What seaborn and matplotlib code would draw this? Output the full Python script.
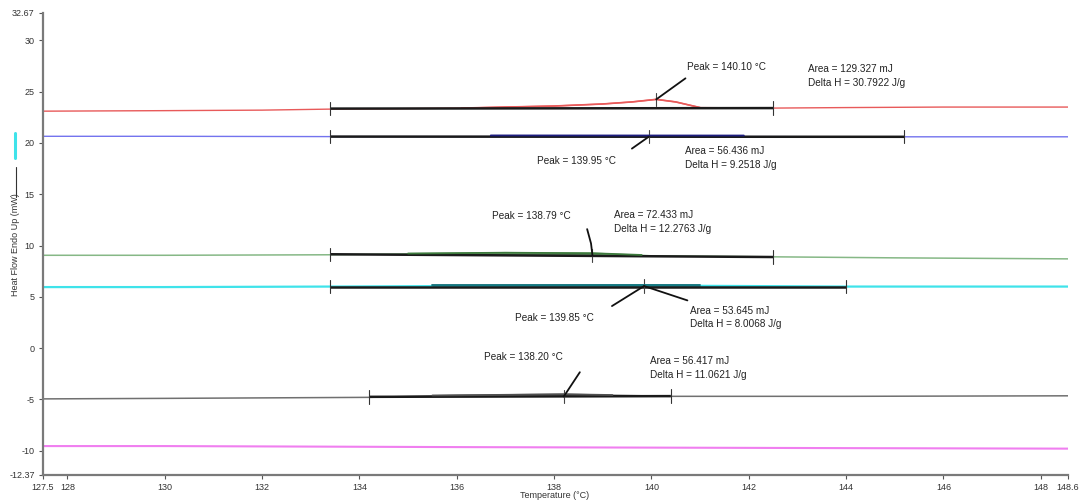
import matplotlib
matplotlib.use("Agg")
import matplotlib.pyplot as plt
from matplotlib.lines import Line2D
import numpy as np
import pandas as pd
import seaborn as sns

sns.set_theme(style="white")
plt.rcParams["font.family"] = ["Liberation Sans", "DejaVu Sans"]

# ---- DSC heating traces (temperature in °C, heat flow in mW) ----
red_t = [127.5, 130.0, 132.0, 133.4, 135.0, 136.1, 137.0, 138.0, 139.0, 139.6, 140.1, 140.5, 141.0, 142.5, 144.0, 146.0, 148.56]
red_q = [23.10, 23.15, 23.20, 23.30, 23.35, 23.40, 23.50, 23.60, 23.80, 24.00, 24.25, 24.00, 23.45, 23.40, 23.45, 23.50, 23.50]

blue_t = [127.5, 130.0, 133.4, 136.7, 139.95, 141.9, 145.2, 148.56]
blue_q = [20.65, 20.65, 20.62, 20.62, 20.66, 20.62, 20.60, 20.60]

green_t = [127.5, 130.0, 133.4, 135.0, 137.0, 138.79, 140.0, 142.5, 145.0, 148.56]
green_q = [9.05, 9.05, 9.10, 9.20, 9.30, 9.25, 9.00, 8.90, 8.80, 8.70]

cyan_t = [127.5, 130.0, 133.4, 136.0, 139.85, 142.0, 144.0, 148.56]
cyan_q = [5.95, 5.95, 6.00, 6.05, 6.10, 6.05, 6.00, 6.00]

gray_t = [127.5, 130.0, 134.2, 136.0, 138.2, 140.4, 144.0, 148.56]
gray_q = [-4.95, -4.90, -4.80, -4.60, -4.50, -4.70, -4.70, -4.65]

magenta_t = [127.5, 130.0, 133.0, 136.0, 140.0, 144.0, 148.56]
magenta_q = [-9.55, -9.55, -9.60, -9.65, -9.70, -9.75, -9.80]

series_names = ["red", "blue", "green", "cyan", "gray", "magenta"]
series_colors = ["#e85a5a", "#7373ee", "#86b886", "#3fe3ea", "#707070", "#f07ff0"]
series_widths = [1.0, 1.0, 1.1, 1.6, 1.1, 1.5]

# ---- peak integration results ----
base_start = [133.4, 133.4, 133.4, 133.4, 134.2]
base_end = [142.5, 145.2, 142.5, 144.0, 140.4]
base_q_start = [23.35, 20.62, 9.15, 6.00, -4.75]
base_q_end = [23.40, 20.60, 8.88, 6.00, -4.68]
peak_temp = [140.10, 139.95, 138.79, 139.85, 138.20]
peak_q = [24.25, 20.62, 9.00, 6.05, -4.72]
area_mj = ["129.327", "56.436", "72.433", "53.645", "56.417"]
delta_h = ["30.7922", "9.2518", "12.2763", "8.0068", "11.0621"]

# darker band where each peak area is filled
fill_range = [(136.1, 141.0), (136.7, 141.9), (135.0, 139.8), (135.5, 141.0), (135.5, 139.2)]
fill_colors = ["#e85a5a", "#1d1d80", "#3d7a3d", "#0f6f78", "#505050"]

x_ticks = [127.5, 128, 130, 132, 134, 136, 138, 140, 142, 144, 146, 148, 148.56]
x_tick_labels = ["127.5", "128", "130", "132", "134", "136", "138", "140", "142", "144", "146", "148", "148.6"]
y_ticks = [-12.37, -10, -5, 0, 5, 10, 15, 20, 25, 30, 32.67]
y_tick_labels = ["-12.37", "-10", "-5", "0", "5", "10", "15", "20", "25", "30", "32.67"]

traces = [(red_t, red_q), (blue_t, blue_q), (green_t, green_q),
          (cyan_t, cyan_q), (gray_t, gray_q), (magenta_t, magenta_q)]
frames = []
for name, (t, q) in zip(series_names, traces):
    frames.append(pd.DataFrame({"Temperature": t, "HeatFlow": q, "trace": name}))
df = pd.concat(frames, ignore_index=True)

fig = plt.figure(figsize=(10.85, 5.04), dpi=100)
ax = fig.add_axes([43 / 1085, 29 / 504, (1068 - 43) / 1085, (475 - 13) / 504])

for name, color, lw in zip(series_names, series_colors, series_widths):
    sns.lineplot(data=df[df["trace"] == name], x="Temperature", y="HeatFlow",
                 color=color, linewidth=lw, estimator=None, ax=ax, zorder=2)

# integration baselines with end and peak markers
tick_h = 0.65
for i in range(5):
    ax.plot([base_start[i], base_end[i]], [base_q_start[i], base_q_end[i]],
            color="#1a1a1a", lw=1.8, zorder=4, solid_capstyle="butt")
    for xe, ye in ((base_start[i], base_q_start[i]), (base_end[i], base_q_end[i])):
        ax.plot([xe, xe], [ye - tick_h, ye + tick_h], color="#333333", lw=0.8, zorder=4)
    ax.plot([peak_temp[i], peak_temp[i]], [peak_q[i] - tick_h, peak_q[i] + tick_h],
            color="#444444", lw=0.8, zorder=4)

# darker filled region of each peak
for i, (lo, hi) in enumerate(fill_range):
    t, q = traces[i]
    tt = np.array(t)
    qq = np.array(q)
    inner = (tt > lo) & (tt < hi)
    seg_t = np.concatenate([[lo], tt[inner], [hi]])
    seg_q = np.interp(seg_t, tt, qq)
    base_seg = np.interp(seg_t, [base_start[i], base_end[i]], [base_q_start[i], base_q_end[i]])
    if i == 0:
        ax.plot(seg_t, seg_q, color=fill_colors[i], lw=1.2, zorder=3)
    else:
        ax.fill_between(seg_t, base_seg, seg_q, color=fill_colors[i], lw=0, alpha=0.8, zorder=3)
        ax.plot(seg_t, np.maximum(seg_q, base_seg + 0.12), color=fill_colors[i],
                lw=1.3, zorder=4.5)

txt = dict(fontsize=7.2, color="#222222", zorder=5)
lead = dict(color="#111111", lw=1.3, zorder=5)

# peak leaders and labels
peak_text_pos = [(140.74, 27.45), (137.64, 18.25), (136.72, 12.9), (137.19, 2.9), (136.57, -0.87)]
leader_end = [(140.70, 26.3), (139.60, 19.45), (138.68, 11.6), (139.19, 4.1), (138.53, -2.35)]
area_text_pos = [(143.21, 26.5), (140.70, 18.55), (139.23, 12.3), (140.80, 3.0), (139.97, -1.95)]

for i in range(5):
    px, py = peak_temp[i], peak_q[i]
    ex, ey = leader_end[i]
    if i == 2:
        ax.plot([px, px - 0.03, ex], [py, py + 1.2, ey], **lead)
    else:
        ax.plot([px, ex], [py, ey], **lead)
    ax.text(peak_text_pos[i][0], peak_text_pos[i][1], f"Peak = {peak_temp[i]:.2f} °C",
            ha="left", va="center", **txt)
    ax.text(area_text_pos[i][0], area_text_pos[i][1],
            f"Area = {area_mj[i]} mJ\nDelta H = {delta_h[i]} J/g",
            ha="left", va="center", linespacing=1.45, **txt)

# second leader on the cyan peak pointing at its area box
ax.plot([peak_temp[3], 140.74], [peak_q[3], 4.65], **lead)

ax.set_xlim(127.5, 148.56)
ax.set_ylim(-12.37, 32.67)
ax.set_xticks(x_ticks)
ax.set_xticklabels(x_tick_labels)
ax.set_yticks(y_ticks)
ax.set_yticklabels(y_tick_labels)
ax.tick_params(axis="both", which="major", direction="out", length=3, width=0.8,
               color="#555555", labelsize=6.5, labelcolor="#333333", pad=3,
               bottom=True, left=True)
ax.set_xlabel("")
ax.set_ylabel("")
for side in ("top", "right"):
    ax.spines[side].set_visible(False)
for side in ("left", "bottom"):
    ax.spines[side].set_color("#7a7a7a")
    ax.spines[side].set_linewidth(1.6)
ax.set_facecolor("white")

fig.text(555 / 1085, 1 - 496 / 504, "Temperature (°C)", ha="center", va="center",
         fontsize=6.5, color="#333333")
fig.text(16 / 1085, 1 - 245 / 504, "Heat Flow Endo Up (mW)", rotation=90,
         ha="center", va="center", fontsize=6.5, color="#333333")
fig.add_artist(Line2D([16 / 1085, 16 / 1085], [1 - 197 / 504, 1 - 167 / 504],
                      color="#333333", lw=0.8))
fig.add_artist(Line2D([15 / 1085, 15 / 1085], [1 - 158 / 504, 1 - 133 / 504],
                      color="#3fe3ea", lw=2.2))

fig.savefig("out.png", dpi=100, facecolor="white")
